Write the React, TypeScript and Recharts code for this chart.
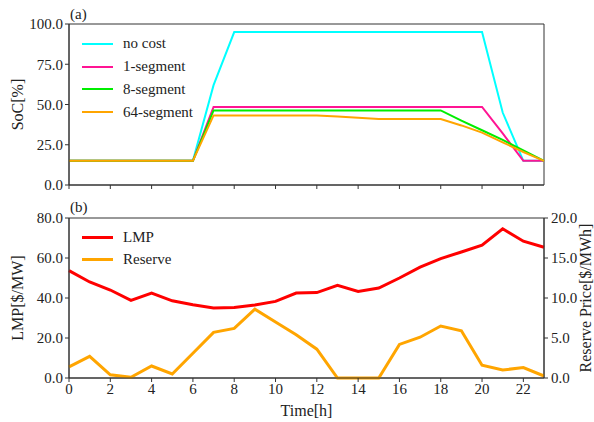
import React from "react";
import {
  Legend,
  Line,
  LineChart,
  ReferenceArea,
  XAxis,
  YAxis,
} from "recharts";

// hours 0..23
const hours = [0, 1, 2, 3, 4, 5, 6, 7, 8, 9, 10, 11, 12, 13, 14, 15, 16, 17, 18, 19, 20, 21, 22, 23];

// (a) state of charge [%]
const noCost = [15, 15, 15, 15, 15, 15, 15, 62, 95, 95, 95, 95, 95, 95, 95, 95, 95, 95, 95, 95, 95, 45, 15, 15];
const seg1 = [15, 15, 15, 15, 15, 15, 15, 48.5, 48.5, 48.5, 48.5, 48.5, 48.5, 48.5, 48.5, 48.5, 48.5, 48.5, 48.5, 48.5, 48.5, 32, 15, 15];
const seg8 = [15, 15, 15, 15, 15, 15, 15, 46.3, 46.3, 46.3, 46.3, 46.3, 46.3, 46.3, 46.3, 46.3, 46.3, 46.3, 46.3, 40, 34, 28, 21.5, 15];
const seg64 = [15, 15, 15, 15, 15, 15, 15, 43.2, 43.2, 43.2, 43.2, 43.2, 43.2, 42.5, 41.7, 41, 41, 41, 41, 37, 32.5, 26.5, 20.5, 15];

// (b) prices
const lmp = [53.7, 48, 44, 38.8, 42.5, 38.6, 36.6, 35, 35.2, 36.5, 38.3, 42.5, 42.7, 46.3, 43.3, 45, 50, 55.4, 59.7, 63, 66.4, 74.6, 68.4, 65.4];
const reserve = [1.4, 2.7, 0.4, 0.1, 1.5, 0.5, 3.1, 5.7, 6.2, 8.6, 7.0, 5.4, 3.6, 0, 0, 0, 4.2, 5.1, 6.5, 5.9, 1.6, 1.0, 1.3, 0.25];

const xTicks = [0, 2, 4, 6, 8, 10, 12, 14, 16, 18, 20, 22];
const socTicks = [0, 25, 50, 75, 100];
const lmpTicks = [0, 20, 40, 60, 80];
const reserveTicks = [0, 5, 10, 15, 20];

const socSeries = [
  { key: "noCost", name: "no cost", color: "#00FFFF" },
  { key: "seg1", name: "1-segment", color: "#FF1493" },
  { key: "seg8", name: "8-segment", color: "#00EE00" },
  { key: "seg64", name: "64-segment", color: "#FFA500" },
];
const priceSeries = [
  { key: "lmp", name: "LMP", color: "#FF0000", axis: "left" },
  { key: "reserve", name: "Reserve", color: "#FFA500", axis: "right" },
];

const socData = hours.map((h, i) => ({
  hour: h,
  noCost: noCost[i],
  seg1: seg1[i],
  seg8: seg8[i],
  seg64: seg64[i],
}));
const priceData = hours.map((h, i) => ({ hour: h, lmp: lmp[i], reserve: reserve[i] }));

const FONT = "'Liberation Serif', 'DejaVu Serif', serif";
const INK = "#222";
const AXIS = "#333";
const tickStyle = { fontSize: 15, fill: INK, fontFamily: FONT };
const fmt1 = (v: number) => v.toFixed(1);

const vLabel = (text: string, dx: number) => (props: any) => {
  const vb = props.viewBox;
  const cx = vb.x + dx;
  const cy = vb.y + vb.height / 2;
  return (
    <text
      x={cx}
      y={cy}
      transform={`rotate(-90 ${cx} ${cy})`}
      textAnchor="middle"
      dominantBaseline="central"
      fontSize={16}
      fill={INK}
      fontFamily={FONT}
    >
      {text}
    </text>
  );
};

const timeLabel = (props: any) => {
  const vb = props.viewBox;
  return (
    <text
      x={vb.x + vb.width / 2}
      y={vb.y + 32}
      textAnchor="middle"
      dominantBaseline="central"
      fontSize={16}
      fill={INK}
      fontFamily={FONT}
    >
      Time[h]
    </text>
  );
};

function LegendBox({ items, lineWidth }: { items: { name: string; color: string }[]; lineWidth: number }) {
  return (
    <div style={{ fontFamily: FONT, fontSize: 15, color: INK }}>
      {items.map((it) => (
        <div key={it.name} style={{ display: "flex", alignItems: "center", height: 22.7 }}>
          <span style={{ width: 31, height: lineWidth, background: it.color, display: "inline-block" }} />
          <span style={{ marginLeft: 10, lineHeight: "15px" }}>{it.name}</span>
        </div>
      ))}
    </div>
  );
}

const panelTag: React.CSSProperties = {
  position: "absolute",
  left: 70,
  fontFamily: FONT,
  fontSize: 15,
  color: INK,
  lineHeight: "16px",
};

export default function App() {
  return (
    <div style={{ position: "absolute", left: 0, top: 0, width: 594, height: 422, background: "#fff" }}>
      <div style={{ ...panelTag, top: 6 }}>(a)</div>
      <LineChart width={594} height={200} data={socData} margin={{ top: 24, right: 50, bottom: 0, left: 0 }}>
        <XAxis
          dataKey="hour"
          type="number"
          domain={[0, 23]}
          ticks={xTicks}
          height={15}
          tickSize={4}
          tickFormatter={() => ""}
          stroke={AXIS}
        />
        <YAxis
          domain={[0, 100]}
          ticks={socTicks}
          width={69}
          tickSize={4}
          tickMargin={2}
          tick={tickStyle}
          tickFormatter={fmt1}
          stroke={AXIS}
          label={vLabel("SoC[%]", 17)}
        />
        <ReferenceArea x1={0} x2={23} y1={0} y2={100} fill="none" stroke={AXIS} strokeWidth={1} />
        {socSeries.map((s) => (
          <Line
            key={s.key}
            dataKey={s.key}
            name={s.name}
            type="linear"
            stroke={s.color}
            strokeWidth={2}
            dot={false}
            isAnimationActive={false}
          />
        ))}
        <Legend
          layout="vertical"
          verticalAlign="middle"
          align="center"
          wrapperStyle={{ top: 32.6, left: 82, width: 160 }}
          content={() => <LegendBox items={socSeries} lineWidth={2} />}
        />
      </LineChart>
      <div style={{ ...panelTag, top: 199 }}>(b)</div>
      <LineChart width={594} height={222} data={priceData} margin={{ top: 18, right: 0, bottom: 0, left: 0 }}>
        <XAxis
          dataKey="hour"
          type="number"
          domain={[0, 23]}
          ticks={xTicks}
          height={44}
          tickSize={4}
          tickMargin={1}
          tick={tickStyle}
          stroke={AXIS}
          label={timeLabel}
        />
        <YAxis
          yAxisId="left"
          domain={[0, 80]}
          ticks={lmpTicks}
          width={69}
          tickSize={4}
          tickMargin={2}
          tick={tickStyle}
          tickFormatter={fmt1}
          stroke={AXIS}
          label={vLabel("LMP[$/MW]", 17)}
        />
        <YAxis
          yAxisId="right"
          orientation="right"
          domain={[0, 20]}
          ticks={reserveTicks}
          width={50}
          tickSize={4}
          tickMargin={3}
          tick={tickStyle}
          tickFormatter={fmt1}
          stroke={AXIS}
          label={vLabel("Reserve Price[$/MWh]", 41)}
        />
        <ReferenceArea yAxisId="left" x1={0} x2={23} y1={0} y2={80} fill="none" stroke={AXIS} strokeWidth={1} />
        {priceSeries.map((s) => (
          <Line
            key={s.key}
            yAxisId={s.axis}
            dataKey={s.key}
            name={s.name}
            type="linear"
            stroke={s.color}
            strokeWidth={3}
            dot={false}
            isAnimationActive={false}
          />
        ))}
        <Legend
          layout="vertical"
          verticalAlign="middle"
          align="center"
          wrapperStyle={{ top: 25.7, left: 82, width: 140 }}
          content={() => <LegendBox items={priceSeries} lineWidth={3} />}
        />
      </LineChart>
    </div>
  );
}
